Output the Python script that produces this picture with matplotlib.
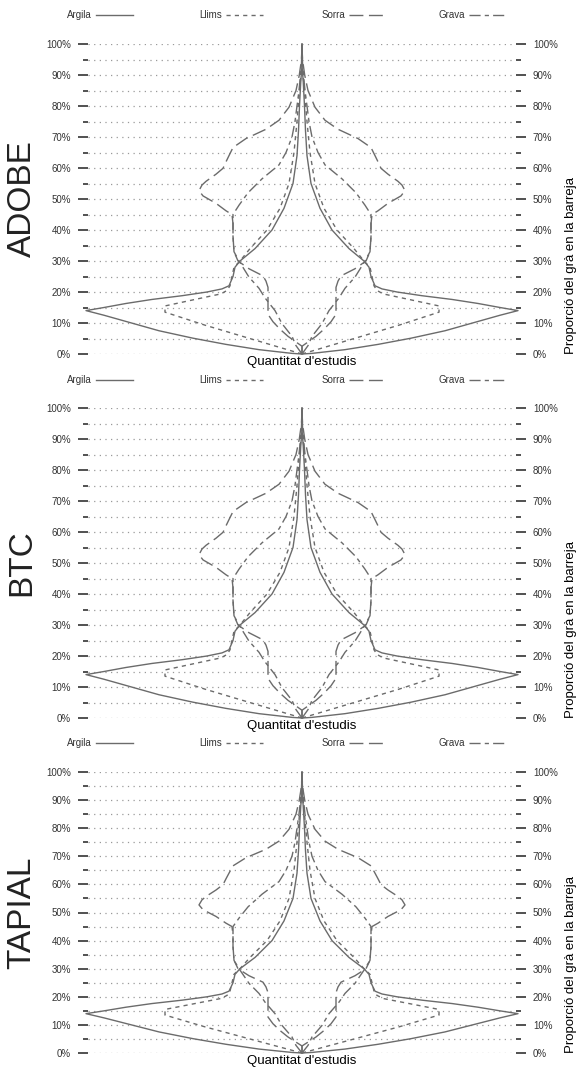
import matplotlib
matplotlib.use('Agg')
import matplotlib.pyplot as plt
from matplotlib.lines import Line2D
import numpy as np

plt.rcParams.update({'font.family': ['Liberation Sans', 'DejaVu Sans']})

# proporcio del gra (%) i mitja amplada del violi (quantitat d'estudis)
argila_y = [0, 0.2, 1.4, 3.1, 5.1, 7.5, 10.5, 12.5, 14, 15, 16.3, 17.6, 18.8, 20, 21, 22, 25, 28, 30,
            34, 40, 47, 55, 64, 72, 80, 88, 93, 100]
argila_w = [0, 10, 43, 76, 109, 143, 176, 198, 216, 198, 176, 150, 120, 95, 80, 73, 69, 67, 62,
            47, 30, 18, 9, 5, 3.5, 2.5, 1.2, 0, 0]

llims_y = [0, 4.5, 9.3, 13.5, 15.5, 17.6, 19.4, 20.5, 22, 25, 28, 30, 34, 40, 47, 55, 65, 75, 85, 92, 95, 100]
llims_w = [0, 47, 97, 137, 137, 107, 81, 75, 72, 70, 68, 62, 52, 35, 22, 13, 8, 5, 2.5, 0.5, 0, 0]

sorra_y = [0, 2.5, 5.7, 8, 10.4, 12.8, 17, 21.5, 23.5, 25.2, 27.5, 30, 33, 38, 42, 45, 46.2, 48.6, 51,
           52.7, 54.5, 55.7, 58, 59.9, 62, 64, 66.6, 69.5, 72.5, 75.4, 79.6, 85, 90, 95, 100]
sorra_w = [0, 0, 14, 22, 29, 34, 34, 34, 36, 39, 53, 64, 68, 69, 69, 70, 76, 86, 99,
           103, 100, 96, 86, 79, 76, 73, 69, 56, 36, 23, 13, 6, 2.7, 0.5, 0]

grava_y = [0, 2.7, 5.7, 9.8, 14, 18.1, 21.2, 24.8, 30, 33, 38, 42, 45, 48, 52, 56.5, 61, 65, 70, 75,
           80, 85, 90, 94, 100]
grava_w = [0, 6, 10, 20, 27, 37, 43, 53, 63, 68, 69, 69, 69, 63, 54, 40, 23, 16, 10, 7,
           5, 3, 1.5, 0.5, 0]

noms = ['Argila', 'Llims', 'Sorra', 'Grava']
panells = ['ADOBE', 'BTC', 'TAPIAL']

series = [(argila_y, argila_w), (llims_y, llims_w), (sorra_y, sorra_w), (grava_y, grava_w)]
estils = ['-', (0, (3, 3)), (0, (10, 4)), (0, (8, 3, 3, 3))]
color = '#6b6b6b'

W, H = 584, 1068
fig = plt.figure(figsize=(W / 100, H / 100), dpi=100)

# (legend y, 100% y, 0% y) in pixels
llocs = [(15, 44, 354), (380, 408, 718), (743, 772, 1053)]
xl, xr = 88, 516
legend_x = [92, 222, 345, 465]

for titol, (yl, yt, yb) in zip(panells, llocs):
    ax = fig.add_axes([xl / W, 1 - yb / H, (xr - xl) / W, (yb - yt) / H])
    for (y, w), ls in zip(series, estils):
        y = np.array(y)
        w = np.array(w)
        ax.plot(-w, y, color=color, lw=1.0, ls=ls, clip_on=False)
        ax.plot(w, y, color=color, lw=1.0, ls=ls, clip_on=False)

    ax.set_xlim(-214, 214)
    ax.set_ylim(0, 100)
    ax.set_yticks(range(0, 101, 10))
    ax.set_yticks(range(5, 100, 10), minor=True)
    ax.set_yticklabels(['%d%%' % v for v in range(0, 101, 10)])
    ax.grid(axis='y', which='both', linestyle=(0, (1, 3.5)), color='#9a9a9a', lw=0.9)
    for s in ax.spines.values():
        s.set_visible(False)
    ax.tick_params(axis='x', bottom=False, labelbottom=False)
    ax.tick_params(axis='y', which='both', left=True, right=True, labelleft=True, labelright=True,
                   direction='out', color='#333333', width=1.2, labelsize=7, labelcolor='#333333', pad=5)
    ax.tick_params(axis='y', which='major', length=7.2)
    ax.tick_params(axis='y', which='minor', length=3.6)
    ax.set_xlabel("Quantitat d'estudis", fontsize=9.5, labelpad=1.5)
    ax.yaxis.set_label_position('right')
    ax.set_ylabel('Proporció del grà en la barreja', fontsize=9.5, loc='bottom', labelpad=5)

    fig.text(22 / W, 1 - (yt + yb) / 2 / H, titol, rotation=90, fontsize=24,
             ha='center', va='center', color='#222222')

    # llegenda
    for nom, ls, lx in zip(noms, estils, legend_x):
        fig.text(lx / W, 1 - yl / H, nom, fontsize=7, ha='right', va='center', color='#333333')
        fig.add_artist(Line2D([(lx + 4) / W, (lx + 41) / W], [1 - yl / H, 1 - yl / H],
                              transform=fig.transFigure, color=color, lw=1.0, ls=ls))

fig.savefig('out.png', dpi=100)
